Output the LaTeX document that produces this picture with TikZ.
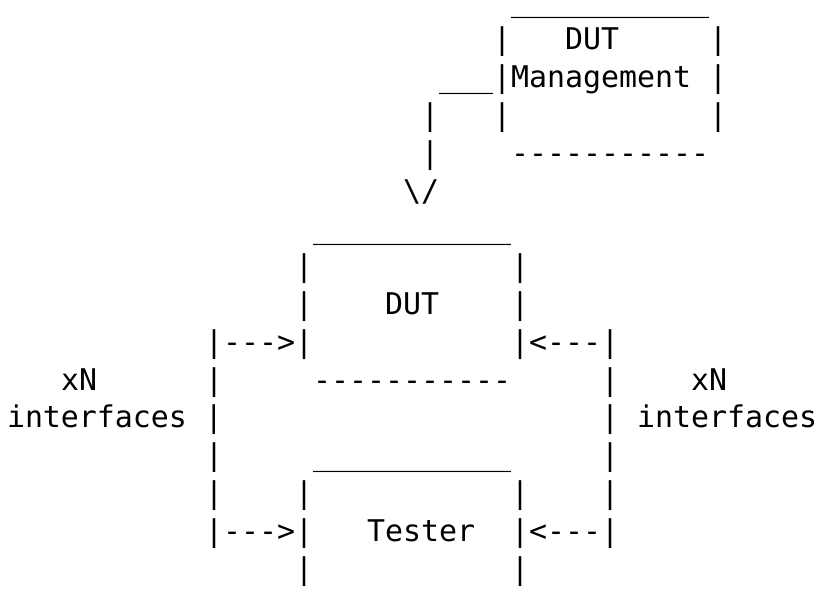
\documentclass[tikz,border=0pt]{standalone}
\usepackage{fontspec}
\newfontfamily\asciimono{DejaVu Sans Mono}[Ligatures=TeXOff]
\newcommand\us{\textunderscore}
\newcommand\uselev{\us\us\us\us\us\us\us\us\us\us\us}
\begin{document}
\begin{tikzpicture}[x=1pt,y=-1pt,
  asciirow/.style={anchor=base west, inner sep=0pt, outer sep=0pt,
    font=\asciimono\fontsize{29.9}{37.8}\selectfont, text=black}]
\path[use as bounding box, fill=white] (0,0) rectangle (818,604);
% column c starts at x = 7 + 18 c ; row r baseline at y = 12 + 37.8 r
\node[asciirow, text height=2pt] (r0)  at (7+18*28, 12+37.8*0)  {\uselev};
\node[asciirow] (r1)  at (7+18*27, 12+37.8*1)  {|~~~DUT~~~~~|};
\node[asciirow] (r2)  at (7+18*24, 12+37.8*2)  {\us\us\us|Management~|};
\node[asciirow] (r3)  at (7+18*23, 12+37.8*3)  {|~~~|~~~~~~~~~~~|};
\node[asciirow] (r4)  at (7+18*23, 12+37.8*4)  {|~~~~-----------};
\node[asciirow] (r5)  at (7+18*22, 12+37.8*5)  {\textbackslash/};
\node[asciirow] (r6)  at (7+18*17, 12+37.8*6)  {\uselev};
\node[asciirow] (r7)  at (7+18*16, 12+37.8*7)  {|~~~~~~~~~~~|};
\node[asciirow] (r8)  at (7+18*16, 12+37.8*8)  {|~~~~DUT~~~~|};
\node[asciirow] (r9)  at (7+18*11, 12+37.8*9)  {|--->|~~~~~~~~~~~|<---|};
\node[asciirow] (r10) at (7+18*3,  12+37.8*10) {xN~~~~~~|~~~~~-----------~~~~~|~~~~xN};
\node[asciirow] (r11) at (7+18*0,  12+37.8*11) {interfaces~|~~~~~~~~~~~~~~~~~~~~~|~interfaces};
\node[asciirow] (r12) at (7+18*11, 12+37.8*12) {|~~~~~\uselev~~~~~|};
\node[asciirow] (r13) at (7+18*11, 12+37.8*13) {|~~~~|~~~~~~~~~~~|~~~~|};
\node[asciirow] (r14) at (7+18*11, 12+37.8*14) {|--->|~~~Tester~~|<---|};
\node[asciirow] (r15) at (7+18*16, 12+37.8*15) {|~~~~~~~~~~~|};
\end{tikzpicture}
\end{document}
